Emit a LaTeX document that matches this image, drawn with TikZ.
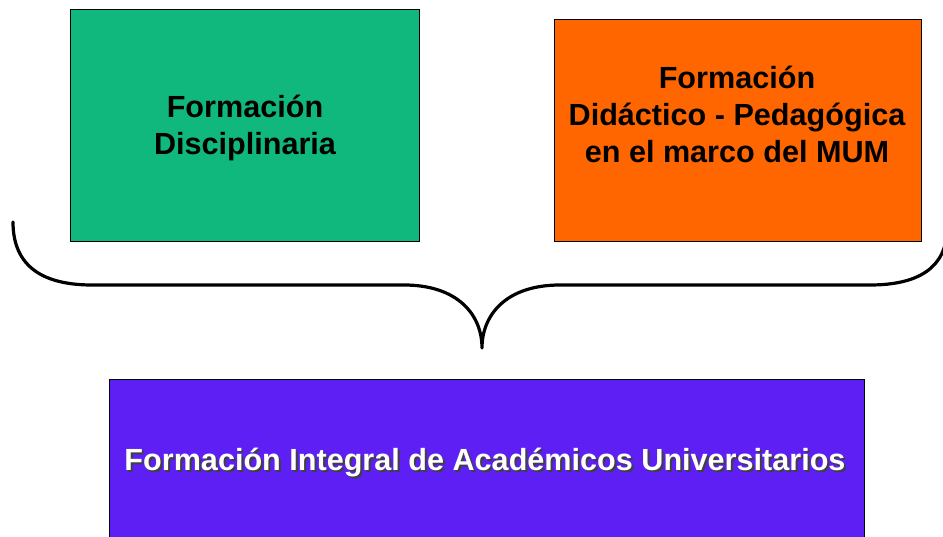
\documentclass[tikz,border=0pt]{standalone}
\usepackage{fontspec}
\setmainfont{Liberation Sans}
\definecolor{boxgreen}{HTML}{11B87D}
\definecolor{boxorange}{HTML}{FF6600}
\definecolor{boxpurple}{HTML}{5D1FF4}
\newcommand{\shadowtext}[1]{\makebox[0pt][l]{\hspace{2pt}\raisebox{-2pt}{\color{black!75}#1}}#1}
\tikzset{
  panel/.style={draw=black, line width=0.9pt, inner sep=0pt},
  lbl/.style={font=\fontsize{30.6}{37}\selectfont\bfseries, align=center, inner sep=0pt},
  bracestyle/.style={line width=3.2pt, line cap=round, line join=round},
}
\begin{document}
\begin{tikzpicture}[x=1pt,y=-1pt]
\useasboundingbox (0,0) rectangle (943,537);
\clip (0,0) rectangle (943,537);
% boxes
\node[panel, fill=boxgreen, minimum width=349pt, minimum height=232pt] (green) at (244.5,125) {};
\node[panel, fill=boxorange, minimum width=367pt, minimum height=222pt] (orange) at (737.5,130) {};
\node[panel, fill=boxpurple, minimum width=755pt, minimum height=170pt] (purple) at (486.5,464) {};
% texts
\node[lbl] (tgreen) at (245,128) {Formación\\Disciplinaria};
\node[lbl] (torange) at (737,114) {Formación\\Didáctico - Pedagógica\\en el marco del MUM};
\node[lbl, text=white] (tpurple) at (485,463.5) {\shadowtext{Formación Integral de Académicos Universitarios}};
% brace
\coordinate (bl) at (13,222);
\coordinate (bll) at (92,285);
\coordinate (blr) at (404,285);
\coordinate (tip) at (482,348);
\coordinate (brl) at (560,285);
\coordinate (brr) at (870,285);
\coordinate (br) at (947,228);
\draw[bracestyle] (bl) .. controls (13,268) and (45,285) .. (bll)
  -- (blr) .. controls (458,285) and (482,315) .. (tip)
  .. controls (482,315) and (506,285) .. (brl)
  -- (brr) .. controls (918,285) and (947,268) .. (br);
\end{tikzpicture}
\end{document}
